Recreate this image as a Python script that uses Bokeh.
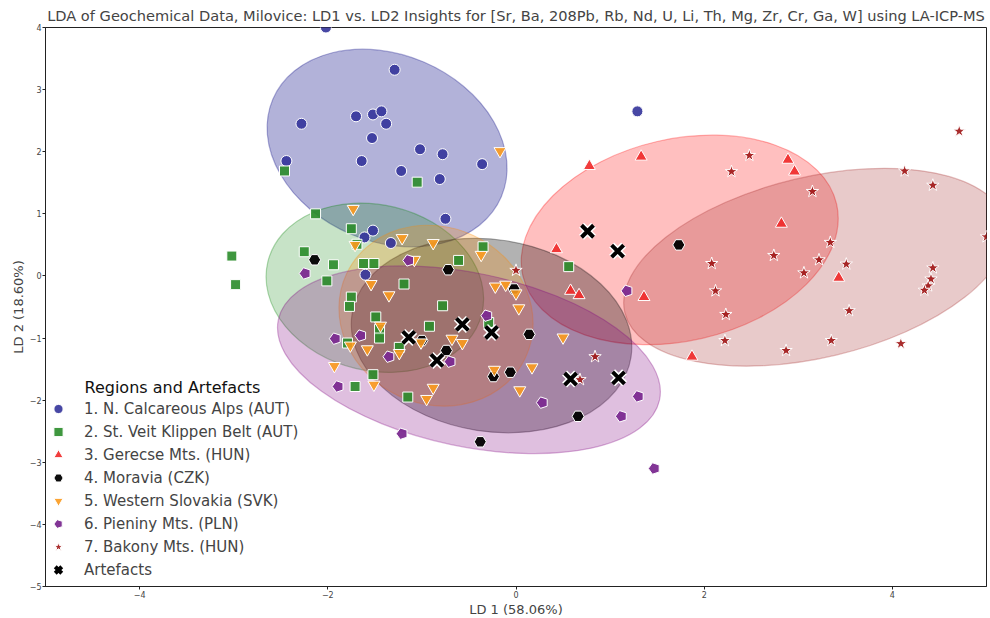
import numpy as np
from bokeh.plotting import figure
from bokeh.models import Range1d, Legend, LegendItem, FixedTicker, Label
from bokeh.embed import file_html
from bokeh.resources import INLINE

FONT = "DejaVu Sans"

TITLE = ("LDA of Geochemical Data, Milovice: LD1 vs. LD2 Insights for "
         "[Sr, Ba, 208Pb, Rb, Nd, U, Li, Th, Mg, Zr, Cr, Ga, W] using LA-ICP-MS")
X_LABEL = "LD 1 (58.06%)"
Y_LABEL = "LD 2 (18.60%)"
LEGEND_TITLE = "Regions and Artefacts"

group_labels = ["1. N. Calcareous Alps (AUT)", "2. St. Veit Klippen Belt (AUT)",
                "3. Gerecse Mts. (HUN)", "4. Moravia (CZK)",
                "5. Western Slovakia (SVK)", "6. Pieniny Mts. (PLN)",
                "7. Bakony Mts. (HUN)"]
artefact_label = "Artefacts"

x_ticks = [-4, -2, 0, 2, 4]
y_ticks = [-5, -4, -3, -2, -1, 0, 1, 2, 3, 4]

# ---- data (LD1, LD2) per group ----
alps_x = [-2.02, -1.29, -2.28, -1.70, -1.52, -1.43, -1.38, -1.53, -2.44, -1.64, -1.02,
          -0.78, -0.36, -1.22, -0.81, -0.75, -1.52, -1.61, -1.33, -1.60, 1.29]
alps_y = [4.00, 3.32, 2.45, 2.57, 2.60, 2.65, 2.45, 2.22, 1.85, 1.85, 2.04,
          1.96, 1.80, 1.69, 1.56, 0.92, 0.73, 0.62, 0.53, 0.02, 2.65]

veit_x = [-2.46, -1.05, -2.13, -1.75, -1.69, -2.25, -1.94, -1.62, -1.51, -2.01, -1.19,
          -1.75, -1.77, -0.78, -1.49, -1.45, -1.45, -0.92, -1.79, -1.24, -1.52, -1.71,
          -1.15, -0.61, -0.35, -0.29, 0.56, -3.02, -2.98]
veit_y = [1.69, 1.51, 1.00, 0.76, 0.51, 0.39, 0.18, 0.20, 0.20, -0.08, -0.13,
          -0.34, -0.49, -0.48, -0.66, -0.86, -1.00, -0.81, -1.08, -1.15, -1.59, -1.78,
          -1.95, 0.25, 0.47, -0.75, 0.15, 0.32, -0.14]

gerecse_x = [0.78, 1.33, 2.89, 2.96, 2.82, 0.43, 0.58, 0.67, 1.36, 3.43, 1.87]
gerecse_y = [1.77, 1.92, 1.87, 1.68, 0.84, 0.43, -0.24, -0.31, -0.34, -0.03, -1.30]

moravia_x = [1.73, 0.14, -2.14, -0.72, -0.02, -1.00, -0.74, -0.24, -0.06, 0.66, -0.38]
moravia_y = [0.50, -0.94, 0.26, 0.10, -0.21, -1.04, -1.20, -1.62, -1.55, -2.26, -2.67]

slovakia_x = [-0.17, -1.73, -1.71, -1.21, -0.88, -1.08, -0.37, -1.54, -1.35, -0.22, -0.11,
              0.00, 0.03, -1.44, -0.68, -0.57, -1.01, -1.76, -1.58, -1.24, -1.93, -1.51,
              -0.88, -0.95, -0.23, 0.17, 0.04, 0.50]
slovakia_y = [2.01, 1.08, 0.50, 0.61, 0.53, 0.26, 0.34, -0.13, -0.31, -0.17, -0.14,
              -0.28, -0.52, -0.80, -1.01, -1.08, -1.07, -1.12, -1.18, -1.24, -1.45, -1.75,
              -1.80, -1.98, -1.51, -1.47, -1.84, -0.99]

pieniny_x = [-2.24, -1.14, -1.92, -1.65, -1.35, -0.70, -0.31, -1.89, 0.28, 1.18, 1.30,
             1.12, -1.21, 1.47]
pieniny_y = [0.04, 0.25, -1.01, -0.96, -1.30, -1.38, -0.64, -1.78, -2.04, -0.24, -1.94,
             -2.26, -2.54, -3.10]

bakony_x = [4.71, 2.48, 2.29, 4.13, 4.43, 3.15, 3.34, 2.74, 2.08, 3.22, 3.51, 3.06, 4.43,
            4.41, 4.38, 4.34, 2.12, 2.23, 3.54, 2.22, 2.87, 3.35, 4.09, 0.84, 5.00, 0.68,
            0.00]
bakony_y = [2.33, 1.94, 1.68, 1.69, 1.46, 1.36, 0.54, 0.33, 0.20, 0.26, 0.19, 0.05, 0.13,
            -0.05, -0.16, -0.23, -0.24, -0.62, -0.56, -1.04, -1.20, -1.04, -1.09, -1.30, 0.63,
            -1.67, 0.09]

artefact_x = [0.76, 1.08, 0.58, 1.09, -1.14, -0.57, -0.26, -0.84]
artefact_y = [0.72, 0.40, -1.66, -1.64, -0.99, -0.78, -0.91, -1.36]

# ---- confidence ellipses per group (centre, full width/height in axis units, angle deg) ----
ell_x = [-1.37, -1.50, 1.74, -0.26, -0.85, -0.50, 3.18]
ell_y = [2.06, -0.19, 0.58, -0.96, -0.64, -1.35, 0.14]
ell_w = [2.64, 2.34, 3.42, 3.00, 2.10, 4.14, 4.16]
ell_h = [3.01, 2.67, 3.25, 3.09, 2.85, 2.79, 2.91]
ell_angle = [-23.1, -13.6, 12.9, -8.8, -25.0, -11.9, 13.4]

marker_colors = ["#33339a", "#2a8c2a", "#f02828", "#000000", "#fb9a1e", "#7b2a90", "#a01515"]
ellipse_colors = ["navy", "green", "red", "black", "darkorange", "purple", "brown"]
ellipse_alpha = [0.3, 0.22, 0.25, 0.3, 0.25, 0.25, 0.25]

p = figure(frame_width=941, frame_height=559, x_range=Range1d(-5, 5), y_range=Range1d(-5, 4),
           output_backend="svg", toolbar_location=None, title=TITLE,
           min_border_left=45, min_border_right=2, min_border_top=0, min_border_bottom=0)

p.title.text_font = FONT
p.title.text_font_size = "14.6px"
p.title.text_font_style = "normal"
p.title.align = "center"
p.title.standoff = 8
p.title.offset = 0

p.grid.visible = False
p.outline_line_color = "#222222"
p.outline_line_width = 1
p.outline_line_alpha = 1

for ax in (p.xaxis[0], p.yaxis[0]):
    ax.major_label_text_font = FONT
    ax.major_label_text_font_size = "8px"
    ax.axis_label_text_font = FONT
    ax.axis_label_text_font_size = "13px"
    ax.axis_label_text_font_style = "normal"
    ax.minor_tick_line_color = None
    ax.major_tick_in = 0
    ax.major_tick_out = 3
    ax.axis_line_color = "#222222"
    ax.major_tick_line_color = "#222222"
    ax.major_label_standoff = 1
    ax.axis_label_standoff = 1

p.xaxis.ticker = FixedTicker(ticks=x_ticks)
p.yaxis.ticker = FixedTicker(ticks=y_ticks)
p.xaxis.major_label_overrides = {t: str(t).replace("-", "\u2212") for t in x_ticks}
p.yaxis.major_label_overrides = {t: str(t).replace("-", "\u2212") for t in y_ticks}
p.xaxis.axis_label = X_LABEL
p.yaxis.axis_label = Y_LABEL

# ellipses
for i in range(len(ell_x)):
    p.ellipse(x=[ell_x[i]], y=[ell_y[i]], width=[ell_w[i]], height=[ell_h[i]],
              angle=[np.deg2rad(ell_angle[i])], fill_color=ellipse_colors[i],
              fill_alpha=ellipse_alpha[i], line_color=ellipse_colors[i], line_alpha=0.3,
              line_width=1.2)

groups = [(alps_x, alps_y, "circle", 11), (veit_x, veit_y, "square", 10),
          (gerecse_x, gerecse_y, "triangle", 12), (moravia_x, moravia_y, "hexagon", 6),
          (slovakia_x, slovakia_y, "inverted_triangle", 12),
          (pieniny_x, pieniny_y, "pentagon", 6), (bakony_x, bakony_y, "star", 13)]

renderers = []
for i, (gx, gy, mk, sz) in enumerate(groups):
    if mk in ("pentagon", "hexagon"):
        nsides = 5 if mk == "pentagon" else 6
        try:
            r = p.ngon(x=gx, y=gy, radius=sz, radius_units="screen", n=nsides,
                       angle=np.pi / 2, fill_color=marker_colors[i], fill_alpha=0.95,
                       line_color="white", line_width=1)
        except Exception:
            r = p.scatter(x=gx, y=gy, marker="hex", size=2 * sz, fill_color=marker_colors[i],
                          fill_alpha=0.95, line_color="white", line_width=1)
    else:
        r = p.scatter(x=gx, y=gy, marker=mk, size=sz, fill_color=marker_colors[i],
                      fill_alpha=0.9, line_color="white", line_width=1)
    renderers.append(r)

ra_w = p.scatter(x=artefact_x, y=artefact_y, marker="x", size=17, line_color="white",
                 line_width=7)
ra_b = p.scatter(x=artefact_x, y=artefact_y, marker="x", size=17, line_color="black",
                 line_width=4)

items = [LegendItem(label=group_labels[i], renderers=[renderers[i]]) for i in range(7)]
items.append(LegendItem(label=artefact_label, renderers=[ra_w, ra_b]))

legend = Legend(items=items, location=(-2, 5))
legend.label_text_font = FONT
legend.label_text_font_size = "15px"
legend.glyph_width = 30
legend.glyph_height = 23
legend.label_height = 23
legend.spacing = 0
legend.padding = 0
legend.margin = 0
legend.label_standoff = 11
legend.border_line_alpha = 0
legend.background_fill_alpha = 0
p.add_layout(legend)

legend_title = Label(x=39, y=199, x_units="screen", y_units="screen", text=LEGEND_TITLE,
                     text_font=FONT, text_font_size="16px", text_baseline="middle",
                     text_align="left", text_color="#111111")
p.add_layout(legend_title)

open("out.html", "w").write(file_html(p, INLINE))
